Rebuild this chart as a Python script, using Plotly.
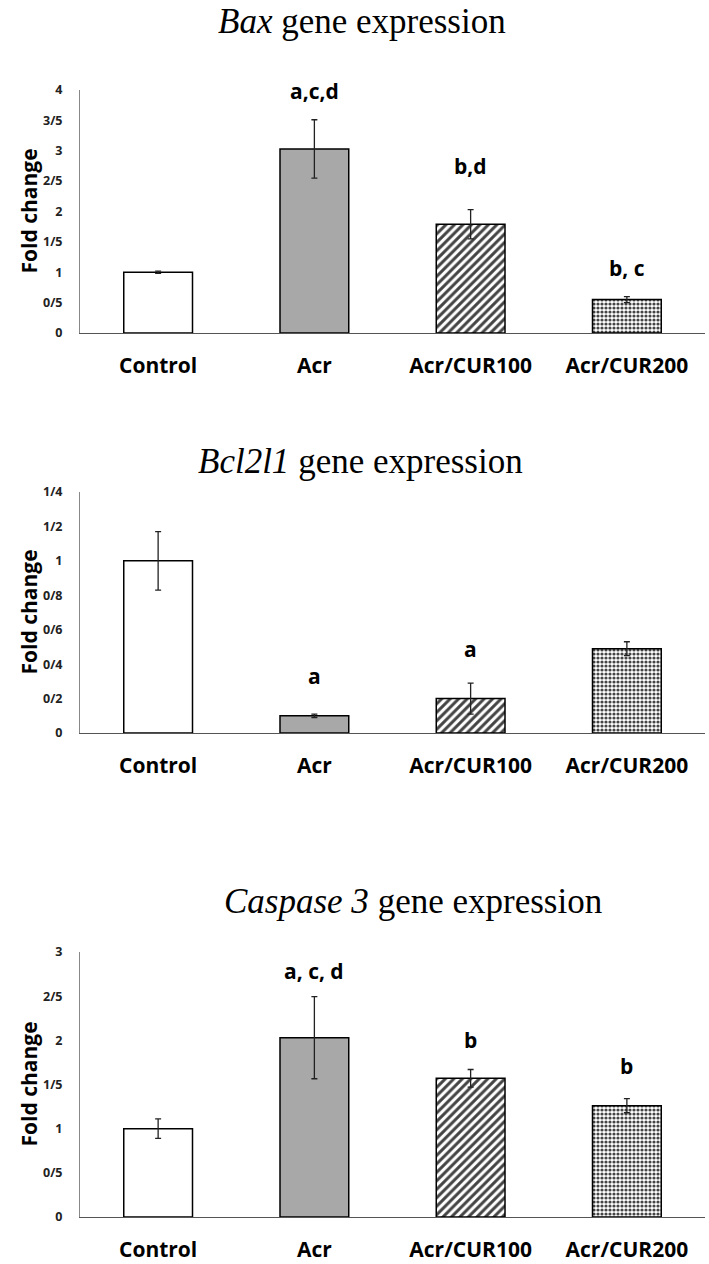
import plotly.graph_objects as go

categories = ["Control", "Acr", "Acr/CUR100", "Acr/CUR200"]

bax_values = [1.0, 3.03, 1.79, 0.55]
bax_errors = [0.02, 0.48, 0.24, 0.05]
bax_letters = ["", "a,c,d", "b,d", "b, c"]
bax_letter_y = [None, 3.98, 2.75, 1.07]
bax_tickvals = [0, 0.5, 1, 1.5, 2, 2.5, 3, 3.5, 4]
bax_ticktext = ["0", "0/5", "1", "1/5", "2", "2/5", "3", "3/5", "4"]

bcl_values = [1.0, 0.10, 0.20, 0.49]
bcl_errors = [0.17, 0.01, 0.09, 0.04]
bcl_letters = ["", "a", "a", ""]
bcl_letter_y = [None, 0.33, 0.49, None]
bcl_tickvals = [0, 0.2, 0.4, 0.6, 0.8, 1.0, 1.2, 1.4]
bcl_ticktext = ["0", "0/2", "0/4", "0/6", "0/8", "1", "1/2", "1/4"]

casp_values = [1.0, 2.03, 1.57, 1.26]
casp_errors = [0.11, 0.465, 0.10, 0.08]
casp_letters = ["", "a, c, d", "b", "b"]
casp_letter_y = [None, 2.79, 2.0, 1.71]
casp_tickvals = [0, 0.5, 1, 1.5, 2, 2.5, 3]
casp_ticktext = ["0", "0/5", "1", "1/5", "2", "2/5", "3"]

titles = ["<i>Bax</i> gene expression", "<i>Bcl2l1</i> gene expression",
          "<i>Caspase 3</i> gene expression"]
y_title = "Fold change"

W, H = 709, 1264
panels = [
    dict(vals=bax_values, errs=bax_errors, letters=bax_letters, ly=bax_letter_y,
         tv=bax_tickvals, tt=bax_ticktext, rng=[0, 4], bottom=333, top=90,
         title_y=22, title_x=362),
    dict(vals=bcl_values, errs=bcl_errors, letters=bcl_letters, ly=bcl_letter_y,
         tv=bcl_tickvals, tt=bcl_ticktext, rng=[0, 1.4], bottom=733, top=492,
         title_y=462, title_x=360),
    dict(vals=casp_values, errs=casp_errors, letters=casp_letters, ly=casp_letter_y,
         tv=casp_tickvals, tt=casp_ticktext, rng=[0, 3], bottom=1217, top=952,
         title_y=901, title_x=413),
]

fills = ["white", "#a8a8a8", "white", "white"]
pat_shapes = ["", "", "/", "."]
pat_sizes = [6, 6, 6, 4]
pat_solid = [0.5, 0.5, 0.5, 0.5]

sans = "Open Sans"
fig = go.Figure()
for i, p in enumerate(panels):
    xa = "x" if i == 0 else f"x{i+1}"
    ya = "y" if i == 0 else f"y{i+1}"
    fig.add_trace(go.Bar(
        x=categories, y=p["vals"], xaxis=xa, yaxis=ya,
        width=0.44,
        marker=dict(color=fills, line=dict(color="black", width=1.5),
                    pattern=dict(shape=pat_shapes, fgcolor="black",
                                 fgopacity=1, size=pat_sizes, solidity=pat_solid)),
        error_y=dict(type="data", array=p["errs"], visible=True,
                     color="#222222", thickness=1.3, width=3),
        showlegend=False, hoverinfo="skip",
    ))
    dom_x = [80 / W, 705 / W]
    dom_y = [1 - p["bottom"] / H, 1 - p["top"] / H]
    fig.layout[("xaxis" if i == 0 else f"xaxis{i+1}")] = dict(
        domain=dom_x, anchor=ya, range=[-0.5, 3.5], showline=True,
        linecolor="#555555", linewidth=1.2, ticks="", showgrid=False,
        tickfont=dict(family=sans, size=21, color="black", weight="bold"),
        ticklabelstandoff=14, fixedrange=True, automargin=False,
    )
    fig.layout[("yaxis" if i == 0 else f"yaxis{i+1}")] = dict(
        domain=dom_y, anchor=xa, range=p["rng"], showline=True,
        linecolor="#888888", linewidth=1, ticks="", showgrid=False,
        tickvals=p["tv"], ticktext=p["tt"], zeroline=False,
        tickfont=dict(family=sans, size=12.5, color="#222222", weight="bold"),
        ticklabelstandoff=14, fixedrange=True, automargin=False,
    )
    mid = 1 - (p["bottom"] + p["top"]) / 2 / H
    fig.add_annotation(x=28 / W, y=mid, xref="paper", yref="paper", text=y_title,
                       textangle=-90, showarrow=False, xanchor="center",
                       yanchor="middle",
                       font=dict(family=sans, size=21, color="black", weight="bold"))
    for c, lab, yy in zip(categories, p["letters"], p["ly"]):
        if lab:
            fig.add_annotation(x=c, y=yy, xref=xa, yref=ya, text=lab,
                               showarrow=False, yanchor="middle",
                               font=dict(family=sans, size=21, color="black",
                                         weight="bold"))
    fig.add_annotation(x=p["title_x"] / W, y=1 - p["title_y"] / H, xref="paper",
                       yref="paper", text=titles[i], showarrow=False,
                       xanchor="center", yanchor="middle",
                       font=dict(family="Liberation Serif", size=35, color="black"))

fig.update_layout(width=W, height=H, margin=dict(l=0, r=0, t=0, b=0, autoexpand=False),
                  paper_bgcolor="white", plot_bgcolor="white", bargap=0.56)
fig.write_html("out.html", config={"displayModeBar": False},
               post_script="document.body.style.margin='0';document.body.style.overflow='hidden';")
